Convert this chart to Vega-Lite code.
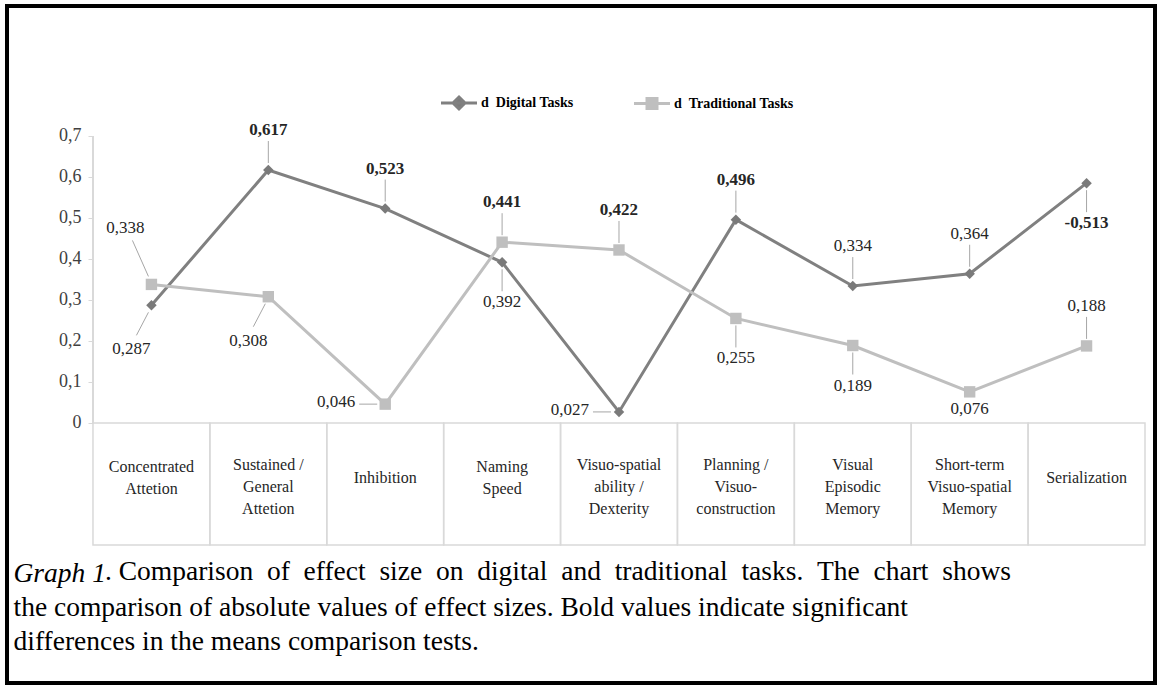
{
  "$schema": "https://vega.github.io/schema/vega-lite/v6.json",
  "width": 1148,
  "height": 677,
  "autosize": {"type": "none"},
  "padding": {"left": 7, "top": 6, "right": 7, "bottom": 5},
  "background": "white",
  "config": {
    "view": {"stroke": "#000000", "strokeWidth": 4},
    "font": "Liberation Serif",
    "text": {"font": "Liberation Serif"},
    "axis": {"labelFont": "Liberation Serif"},
    "legend": {"labelFont": "Liberation Serif"}
  },
  "title": {
    "text": ". Comparison \u00a0of \u00a0effect \u00a0size \u00a0on \u00a0digital \u00a0and \u00a0traditional \u00a0tasks. \u00a0The \u00a0chart \u00a0shows",
    "orient": "top",
    "anchor": "start",
    "frame": "group",
    "offset": 0,
    "dx": 98,
    "dy": 601,
    "baseline": "alphabetic",
    "font": "Liberation Serif",
    "fontSize": 27.5,
    "fontWeight": "normal",
    "color": "#000000",
    "limit": 2000
  },
  "data": {
    "values": [
      {"task": "Concentrated\nAttetion", "series": "Digital Tasks", "value": 0.287, "label": "0,287", "sig": false, "pos": "belowleft"},
      {"task": "Sustained /\nGeneral\nAttetion", "series": "Digital Tasks", "value": 0.617, "label": "0,617", "sig": true, "pos": "above"},
      {"task": "Inhibition", "series": "Digital Tasks", "value": 0.523, "label": "0,523", "sig": true, "pos": "above"},
      {"task": "Naming\nSpeed", "series": "Digital Tasks", "value": 0.392, "label": "0,392", "sig": false, "pos": "below"},
      {"task": "Visuo-spatial\nability /\nDexterity", "series": "Digital Tasks", "value": 0.027, "label": "0,027", "sig": false, "pos": "left"},
      {"task": "Planning /\nVisuo-\nconstruction", "series": "Digital Tasks", "value": 0.496, "label": "0,496", "sig": true, "pos": "above"},
      {"task": "Visual\nEpisodic\nMemory", "series": "Digital Tasks", "value": 0.334, "label": "0,334", "sig": false, "pos": "above"},
      {"task": "Short-term\nVisuo-spatial\nMemory", "series": "Digital Tasks", "value": 0.364, "label": "0,364", "sig": false, "pos": "above"},
      {"task": "Serialization", "series": "Digital Tasks", "value": 0.585, "label": "-0,513", "sig": true, "pos": "below"},
      {"task": "Concentrated\nAttetion", "series": "Traditional Tasks", "value": 0.338, "label": "0,338", "sig": false, "pos": "aboveleft"},
      {"task": "Sustained /\nGeneral\nAttetion", "series": "Traditional Tasks", "value": 0.308, "label": "0,308", "sig": false, "pos": "belowleft"},
      {"task": "Inhibition", "series": "Traditional Tasks", "value": 0.046, "label": "0,046", "sig": false, "pos": "left"},
      {"task": "Naming\nSpeed", "series": "Traditional Tasks", "value": 0.441, "label": "0,441", "sig": true, "pos": "above"},
      {"task": "Visuo-spatial\nability /\nDexterity", "series": "Traditional Tasks", "value": 0.422, "label": "0,422", "sig": true, "pos": "above"},
      {"task": "Planning /\nVisuo-\nconstruction", "series": "Traditional Tasks", "value": 0.255, "label": "0,255", "sig": false, "pos": "below"},
      {"task": "Visual\nEpisodic\nMemory", "series": "Traditional Tasks", "value": 0.189, "label": "0,189", "sig": false, "pos": "below"},
      {"task": "Short-term\nVisuo-spatial\nMemory", "series": "Traditional Tasks", "value": 0.076, "label": "0,076", "sig": false, "pos": "under"},
      {"task": "Serialization", "series": "Traditional Tasks", "value": 0.188, "label": "0,188", "sig": false, "pos": "above"}
    ]
  },
  "encoding": {
    "x": {
      "field": "task",
      "type": "nominal",
      "scale": {
        "domain": ["Concentrated\nAttetion", "Sustained /\nGeneral\nAttetion", "Inhibition", "Naming\nSpeed", "Visuo-spatial\nability /\nDexterity", "Planning /\nVisuo-\nconstruction", "Visual\nEpisodic\nMemory", "Short-term\nVisuo-spatial\nMemory", "Serialization"],
        "paddingInner": 0,
        "paddingOuter": 0.4106,
        "align": 0.8958
      },
      "axis": {
        "orient": "bottom",
        "offset": -260,
        "domain": false,
        "ticks": false,
        "tickSize": 0,
        "grid": false,
        "labels": false,
        "title": ["the comparison of absolute values of effect sizes. Bold values indicate significant", "differences in the means comparison tests."],
        "titleX": 6,
        "titleY": 192,
        "titleAlign": "left",
        "titleBaseline": "alphabetic",
        "titleFont": "Liberation Serif",
        "titleFontSize": 27.5,
        "titleFontWeight": "normal",
        "titleColor": "#000000",
        "titleLineHeight": 34,
        "titleLimit": 2000
      }
    },
    "y": {
      "field": "value",
      "type": "quantitative",
      "scale": {"domain": [-0.63415, 1.01707], "nice": false, "zero": false},
      "axis": {
        "orient": "left",
        "offset": -86,
        "values": [0, 0.1, 0.2, 0.3, 0.4, 0.5, 0.6, 0.7],
        "domain": false,
        "grid": false,
        "ticks": true,
        "tickSize": 5,
        "tickColor": "#d9d9d9",
        "tickWidth": 1,
        "labelExpr": "datum.value == 0 ? '0' : replace(format(datum.value, '.1f'), '.', ',')",
        "labelFont": "Liberation Serif",
        "labelFontSize": 18,
        "labelColor": "#404040",
        "labelPadding": 7,
        "title": "Graph 1",
        "titleAngle": 0,
        "titleX": -80,
        "titleY": 575,
        "titleAlign": "left",
        "titleBaseline": "alphabetic",
        "titleFont": "Liberation Serif",
        "titleFontSize": 27.5,
        "titleFontWeight": "normal",
        "titleFontStyle": "italic",
        "titleColor": "#000000"
      }
    }
  },
  "layer": [
    {
      "transform": [{"filter": "datum.series == 'Digital Tasks'"}],
      "mark": {"type": "rect", "fill": null, "fillOpacity": 0, "stroke": "#d9d9d9", "strokeWidth": 1.5},
      "encoding": {
        "y": {"datum": 0},
        "y2": {"datum": -0.2976}
      }
    },
    {
      "transform": [{"filter": "datum.series == 'Digital Tasks'"}],
      "mark": {
        "type": "text",
        "font": "Liberation Serif",
        "fontSize": 16,
        "color": "#262626",
        "baseline": "middle",
        "align": "center",
        "lineBreak": "\n",
        "lineHeight": 22,
        "dy": {"expr": "length(split(datum.task, '\\n')) == 3 ? -13 : length(split(datum.task, '\\n')) == 2 ? -11 : 0"}
      },
      "encoding": {
        "y": {"datum": -0.1341},
        "text": {"field": "task"}
      }
    },
    {
      "mark": {"type": "rule", "color": "#d9d9d9", "strokeWidth": 1.5},
      "encoding": {
        "x": {"datum": "Concentrated\nAttetion", "type": "nominal", "bandPosition": 0},
        "y": {"datum": 0},
        "y2": {"datum": 0.7}
      }
    },
    {
      "mark": {"type": "line", "strokeWidth": 3},
      "encoding": {
        "color": {
          "field": "series",
          "type": "nominal",
          "scale": {"domain": ["Digital Tasks", "Traditional Tasks"], "range": ["#808080", "#bfbfbf"]},
          "legend": {
            "orient": "none",
            "legendX": 445,
            "legendY": 90,
            "direction": "horizontal",
            "title": null,
            "padding": 0,
            "columnPadding": 54,
            "labelOffset": 15,
            "symbolSize": 1369,
            "symbolStrokeWidth": 3,
            "labelFont": "Liberation Serif",
            "labelFontSize": 14,
            "labelFontWeight": "bold",
            "labelColor": "#000000",
            "labelExpr": "'d\u00a0\u00a0' + datum.label",
            "encode": {
              "symbols": {
                "update": {
                  "shape": {"signal": "datum.value === 'Digital Tasks' ? 'M-18,0H18M0,-6L6,0L0,6L-6,0Z' : 'M-18,0H18M-5,-5H5V5H-5Z'"},
                  "size": {"value": 4},
                  "fill": {"signal": "datum.value === 'Digital Tasks' ? '#7a7a7a' : '#bfbfbf'"},
                  "stroke": {"signal": "datum.value === 'Digital Tasks' ? '#808080' : '#bfbfbf'"},
                  "strokeWidth": {"value": 3},
                  "strokeOpacity": {"value": 1},
                  "fillOpacity": {"value": 1},
                  "opacity": {"value": 1}
                }
              }
            }
          }
        },
        "detail": {"field": "series"}
      }
    },
    {
      "transform": [{"filter": "datum.series == 'Digital Tasks'"}],
      "mark": {"type": "point", "filled": true, "opacity": 1, "shape": "diamond", "size": 110, "color": "#7a7a7a"}
    },
    {
      "transform": [{"filter": "datum.series == 'Traditional Tasks'"}],
      "mark": {"type": "point", "filled": true, "opacity": 1, "shape": "square", "size": 130, "color": "#bfbfbf"}
    },
    {
      "transform": [{"filter": "datum.pos != 'under'"}],
      "mark": {
        "type": "point",
        "filled": false,
        "opacity": 1,
        "size": 4,
        "stroke": "#a6a6a6",
        "strokeWidth": 1,
        "shape": {"expr": "datum.pos == 'above' ? 'M0,-7L0,-29' : datum.pos == 'below' ? 'M0,7L0,29' : datum.pos == 'aboveleft' ? 'M-3,-8L-19,-44' : datum.pos == 'belowleft' ? 'M-3,7L-15,30' : 'M-8,0L-26,0'"}
      }
    },
    {
      "mark": {
        "type": "text",
        "font": "Liberation Serif",
        "fontSize": 17,
        "color": "#262626",
        "baseline": "middle",
        "fontWeight": {"expr": "datum.sig ? 'bold' : 'normal'"},
        "align": {"expr": "datum.pos == 'left' ? 'right' : 'center'"},
        "dx": {"expr": "datum.pos == 'left' ? -30 : datum.pos == 'aboveleft' ? -26 : datum.pos == 'belowleft' ? -20 : 0"},
        "dy": {"expr": "datum.pos == 'above' ? -40 : datum.pos == 'below' ? 40 : datum.pos == 'aboveleft' ? -56 : datum.pos == 'belowleft' ? 44 : datum.pos == 'under' ? 17 : -2"}
      },
      "encoding": {
        "text": {"field": "label"}
      }
    }
  ]
}
